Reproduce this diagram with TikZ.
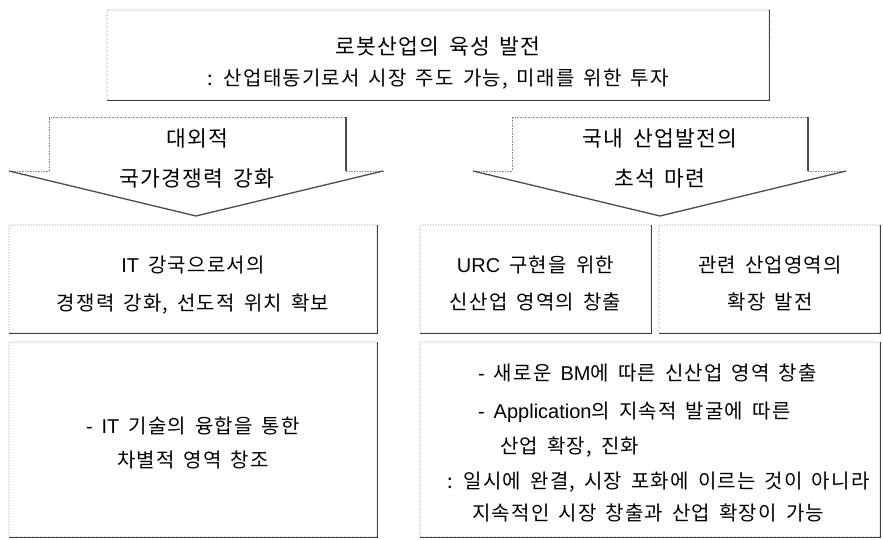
\documentclass[tikz,border=0pt]{standalone}
\usepackage{fontspec}
\setmainfont{Noto Sans CJK KR}[LetterSpace=6,WordSpace=1.6]
\newfontfamily\latfont{Liberation Sans}[WordSpace=1.6]
\newcommand{\lt}[1]{{\latfont #1}}
\begin{document}
\begin{tikzpicture}[x=1pt,y=-1pt,
  boxline/.style={draw=black!45,line width=0.6pt,densely dotted},
  shade/.style={draw=black!75,line width=1.3pt},
  panel/.style={boxline,inner sep=0pt,rounded corners=1pt},
  txt/.style={inner sep=0pt,font=\fontsize{20}{24}\selectfont},
  bigtxt/.style={inner sep=0pt,font=\fontsize{21.5}{26}\selectfont},
  arrowedge/.style={draw=black!45,line width=0.6pt,densely dotted},
  arrowshade/.style={draw=black!70,line width=1.3pt,line join=miter}]
\useasboundingbox (0,0) rectangle (883,539);
\fill[white] (0,0) rectangle (883,539);
% top box
\node[panel,minimum width=662pt,minimum height=90pt] (top) at (438,55) {};
\draw[shade] (top.north east) -- (top.south east) -- (top.south west);
\node[bigtxt] (t1) at (438,46) {로봇산업의 육성 발전};
\node[txt] (t2) at (438,79) {: 산업태동기로서 시장 주도 가능, 미래를 위한 투자};
% left block arrow
\draw[arrowedge] (9,171) -- (49,171) -- (49,117) -- (346,117) -- (346,171) -- (383,171);
\draw[arrowshade] (346,117) -- (346,171);
\draw[arrowshade] (383,171) -- (196,216) -- (9,171);
\node[bigtxt] (a1) at (197,138) {대외적};
\node[bigtxt] (a2) at (197,178) {국가경쟁력 강화};
% right block arrow
\draw[arrowedge] (473,171) -- (512,171) -- (512,117) -- (808,117) -- (808,171) -- (846,171);
\draw[arrowshade] (808,117) -- (808,171);
\draw[arrowshade] (846,171) -- (660,216) -- (473,171);
\node[bigtxt] (b1) at (660,138) {국내 산업발전의};
\node[bigtxt] (b2) at (660,178) {초석 마련};
% left column boxes
\node[panel,minimum width=368pt,minimum height=108pt] (l1) at (193,279) {};
\draw[shade] (l1.north east) -- (l1.south east) -- (l1.south west);
\node[txt] (l1a) at (193,265) {\lt{IT} 강국으로서의};
\node[txt] (l1b) at (193,304) {경쟁력 강화, 선도적 위치 확보};
\node[panel,minimum width=368pt,minimum height=195pt] (l2) at (193,439.5) {};
\draw[shade] (l2.north east) -- (l2.south east) -- (l2.south west);
\node[txt] (l2a) at (193,426) {\lt{- IT} 기술의 융합을 통한};
\node[txt] (l2b) at (193,460) {차별적 영역 창조};
% right column boxes
\node[panel,minimum width=231pt,minimum height=108pt] (r1) at (535.5,279) {};
\draw[shade] (r1.north east) -- (r1.south east) -- (r1.south west);
\node[txt] (r1a) at (535.5,265) {\lt{URC} 구현을 위한};
\node[txt] (r1b) at (535.5,302) {신산업 영역의 창출};
\node[panel,minimum width=221pt,minimum height=108pt] (r2) at (769.5,279) {};
\draw[shade] (r2.north east) -- (r2.south east) -- (r2.south west);
\node[txt] (r2a) at (770,265) {관련 산업영역의};
\node[txt] (r2b) at (770,302) {확장 발전};
\node[panel,minimum width=460pt,minimum height=195pt] (r3) at (650,439.5) {};
\draw[shade] (r3.north east) -- (r3.south east) -- (r3.south west);
\node[txt,anchor=west] (r3a) at (478,373) {\lt{-} 새로운 \lt{BM}에 따른 신산업 영역 창출};
\node[txt,anchor=west] (r3b) at (478,412) {\lt{- Application}의 지속적 발굴에 따른};
\node[txt,anchor=west] (r3c) at (500,447) {산업 확장, 진화};
\node[txt,anchor=west] (r3d) at (447,482) {: 일시에 완결, 시장 포화에 이르는 것이 아니라};
\node[txt,anchor=west] (r3e) at (472,513) {지속적인 시장 창출과 산업 확장이 가능};
\end{tikzpicture}
\end{document}
